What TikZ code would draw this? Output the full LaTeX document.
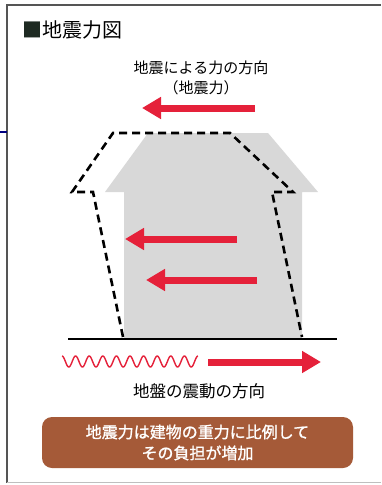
\documentclass[tikz,border=0pt]{standalone}
\usepackage{fontspec}
\newfontfamily\jp{Noto Sans CJK JP}
\newfontfamily\jpmed[FakeBold=1.2]{Noto Sans CJK JP}
\usetikzlibrary{arrows.meta}
\definecolor{forcered}{HTML}{E5213A}
\definecolor{housegray}{HTML}{D8D8D8}
\definecolor{notebrown}{HTML}{A55A38}
\definecolor{framegray}{HTML}{555555}
\definecolor{titlemark}{HTML}{1E2A22}
\tikzset{
  force/.style={forcered, line width=7pt, -{Triangle[length=19pt,width=21pt]}},
  shifted/.style={black, line width=2.6pt, dash pattern=on 8pt off 5pt},
  label/.style={font=\jp\fontsize{15}{20}\selectfont, align=center, inner sep=0pt},
}
\begin{document}
\begin{tikzpicture}[x=1pt,y=-1pt]
\useasboundingbox (0,0) rectangle (381,485);
\fill[white] (0,0) rectangle (381,485);

% frame
\draw[framegray, line width=2pt] (7,5) -- (381,5);
\draw[framegray, line width=1.5pt] (7,4) -- (7,483);
\draw[gray!50, line width=1pt] (7,482) -- (381,482);
\draw[blue!50!black, line width=1.2pt] (0,132) -- (7,132);

% title
\node[anchor=west, inner sep=0pt, font=\jp\fontsize{20}{24}\selectfont] (title) at (22,30) {\textcolor{titlemark}{■}地震力図};

% upper label
\node[label] (eqlabel) at (201,78) {地震による力の方向\\（地震力）};

% building (undeformed)
\fill[housegray] (148,133) -- (268,133) -- (318,192) -- (302,192) -- (302,338)
  -- (124,338) -- (124,192) -- (105,192) -- cycle;

% deformed outline
\coordinate (lb) at (123,337);
\coordinate (lw) at (93,192);
\coordinate (le) at (72,192);
\coordinate (lt) at (113,133);
\coordinate (rt) at (230,133);
\coordinate (re) at (293,192);
\coordinate (rw) at (272,192);
\coordinate (rb) at (302,337);
\draw[shifted] (lb) -- (lw) -- (le) -- (lt) -- (rt) -- (re) -- (rw) -- (rb);

% ground
\coordinate (g1) at (68,339);
\coordinate (g2) at (337,339);
\draw[black, line width=2.6pt] (g1) -- (g2);

% seismic forces
\coordinate (a1s) at (255,108); \coordinate (a1e) at (142,108);
\coordinate (a2s) at (237,239); \coordinate (a2e) at (125,239);
\coordinate (a3s) at (257,280); \coordinate (a3e) at (146,280);
\draw[force] (a1s) -- (a1e);
\draw[force] (a2s) -- (a2e);
\draw[force] (a3s) -- (a3e);

% ground motion
\draw[forcered, line width=1.4pt, line join=round]
  plot[domain=62:198, samples=240] (\x, {361.5 - 5.5*cos((\x-62)/13.6*360)});
\coordinate (g3s) at (208,362); \coordinate (g3e) at (321,362);
\draw[force] (g3s) -- (g3e);
\node[label, font=\jp\fontsize{16.5}{20}\selectfont] (groundlabel) at (199,391) {地盤の震動の方向};

% note box
\node[fill=notebrown, rounded corners=10pt, minimum width=311pt, minimum height=51pt,
  inner sep=0pt, text=white, align=center,
  font=\jpmed\fontsize{16}{21}\selectfont] (note) at (197.5,442.5)
  {地震力は建物の重力に比例して\\その負担が増加};
\end{tikzpicture}
\end{document}
